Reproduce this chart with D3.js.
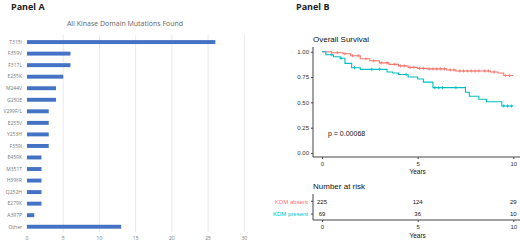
<!DOCTYPE html>
<html>
<head>
<meta charset="utf-8">
<script src="https://cdn.jsdelivr.net/npm/d3@7"></script>
<style>
  body { margin: 0; background: #fff; }
  svg { display: block; }
</style>
</head>
<body>
<div id="chart"></div>
<script>
// ---- data: panel A ----
const mutations = ["T315I", "F359V", "F317L", "E255K", "M244V", "G250E", "V299F/L", "E255V", "Y253H",
  "F359I", "E459K", "M351T", "H396R", "Q252H", "E279K", "A397P", "Other"];
const mutationCounts = [26, 6, 6, 5, 4, 4, 3, 3, 3, 3, 2, 2, 2, 2, 2, 1, 13];
const countTicks = [0, 5, 10, 15, 20, 25, 30];

// ---- data: panel B (Kaplan-Meier, step points) ----
const absentTimes = [0, 0.5, 1.1, 1.5, 2.0, 2.5, 3.0, 3.5, 4.0, 4.5, 5.0, 5.5, 6.5, 7.0, 8.8, 9.2, 9.5];
const absentSurv  = [1.0, 0.99, 0.98, 0.96, 0.93, 0.91, 0.89, 0.875, 0.86, 0.845, 0.835, 0.83, 0.82, 0.81, 0.80, 0.79, 0.765];
const absentCensor = [0.8, 1.2, 1.6, 1.9, 2.3, 2.7, 3.1, 3.4, 3.8, 4.1, 4.3, 4.6, 4.8, 5.1, 5.3, 5.6, 5.8, 6.0,
  6.2, 6.4, 6.7, 6.9, 7.2, 7.4, 7.6, 7.8, 8.0, 8.2, 8.5, 8.7, 9.0, 9.6, 9.8];
const presentTimes = [0, 0.2, 0.6, 0.95, 1.2, 1.55, 2.0, 3.4, 3.7, 4.0, 4.5, 5.0, 5.3, 5.8, 7.5, 7.7, 8.2, 8.6, 9.4];
const presentSurv  = [1.0, 0.97, 0.95, 0.935, 0.885, 0.842, 0.826, 0.80, 0.79, 0.775, 0.75, 0.73, 0.70, 0.645, 0.60, 0.56, 0.53, 0.506, 0.464];
const presentCensor = [0.5, 1.0, 1.7, 2.6, 3.0, 4.4, 5.9, 6.1, 6.3, 7.0, 9.5, 9.7, 9.9];
const survTicks = [0, 0.25, 0.5, 0.75, 1.0];
const yearTicks = [0, 5, 10];
const riskGroups = ["KDM absent", "KDM present"];
const riskAbsent = [225, 124, 29];
const riskPresent = [69, 36, 10];
const groupColors = ["#F8766D", "#00BFC4"];

const W = 520, H = 242;
const svg = d3.select("#chart").append("svg").attr("width", W).attr("height", H);

// ================= Panel A =================
svg.append("text").attr("x", 11).attr("y", 10)
  .style("font", "bold 9px 'Open Sans', sans-serif").attr("fill", "#222").text("Panel A");

svg.append("text").attr("x", 125).attr("y", 26).attr("text-anchor", "middle")
  .style("font", "7px 'Open Sans', sans-serif").attr("fill", "#666")
  .text("All Kinase Domain Mutations Found");

const xA = d3.scaleLinear().domain([0, 30]).range([27, 244.3]);
const yA = d3.scaleBand().domain(mutations).range([36.3, 232.5]).paddingInner(0.66).paddingOuter(0.33);

const gA = svg.append("g");
gA.selectAll(".grid").data(countTicks.slice(1)).enter().append("line")
  .attr("x1", d => xA(d)).attr("x2", d => xA(d))
  .attr("y1", 35).attr("y2", 232)
  .attr("stroke", "#e2e2e2").attr("stroke-width", 0.8);

gA.selectAll(".bar").data(mutations).enter().append("rect")
  .attr("x", xA(0))
  .attr("y", d => yA(d))
  .attr("width", (d, i) => xA(mutationCounts[i]) - xA(0))
  .attr("height", yA.bandwidth())
  .attr("fill", "#4472C4");

gA.selectAll(".cat").data(mutations).enter().append("text")
  .attr("x", 22).attr("y", d => yA(d) + yA.bandwidth() / 2 + 1.8)
  .attr("text-anchor", "end")
  .style("font", "5px 'Open Sans', sans-serif").attr("fill", "#777")
  .text(d => d);

gA.selectAll(".tick").data(countTicks).enter().append("text")
  .attr("x", d => xA(d)).attr("y", 240)
  .attr("text-anchor", "middle")
  .style("font", "5px 'Open Sans', sans-serif").attr("fill", "#777")
  .text(d => d);

// ================= Panel B =================
svg.append("text").attr("x", 296).attr("y", 10)
  .style("font", "bold 9px 'Open Sans', sans-serif").attr("fill", "#222").text("Panel B");

const axisFont = "6px 'Liberation Sans', Arial, sans-serif";
const xB = d3.scaleLinear().domain([0, 10]).range([322, 513.3]);
const yB = d3.scaleLinear().domain([0, 1]).range([153, 51.7]);

svg.append("text").attr("x", 313).attr("y", 42)
  .style("font", "8px 'Liberation Sans', Arial, sans-serif").attr("fill", "#111")
  .text("Overall Survival");

const gB = svg.append("g");
// axes
const yAxisB = gB.append("g").attr("transform", "translate(313,0)")
  .call(d3.axisLeft(yB).tickValues(survTicks).tickFormat(d3.format(".2f")).tickSize(2).tickPadding(2));
const xAxisB = gB.append("g").attr("transform", "translate(0,157)")
  .call(d3.axisBottom(xB).tickValues(yearTicks).tickSize(2).tickPadding(3));
[yAxisB, xAxisB].forEach(g => {
  g.select(".domain").remove();
  g.selectAll("line").attr("stroke", "#444");
  g.selectAll("text").style("font", axisFont).attr("fill", "#333");
});
gB.append("line").attr("x1", 313).attr("x2", 313).attr("y1", 47).attr("y2", 157).attr("stroke", "#444");
gB.append("line").attr("x1", 313).attr("x2", 520).attr("y1", 157).attr("y2", 157).attr("stroke", "#444");
gB.append("text").attr("x", xB(5)).attr("y", 174).attr("text-anchor", "middle")
  .style("font", "6.5px 'Liberation Sans', Arial, sans-serif").attr("fill", "#111").text("Years");

// curves
const stepLine = d3.line().curve(d3.curveStepAfter).x(d => xB(d[0])).y(d => yB(d[1]));
function survAt(times, surv, t) {
  const i = d3.bisectRight(times, t) - 1;
  return surv[Math.max(0, i)];
}
const series = [
  {times: absentTimes, surv: absentSurv, censor: absentCensor, color: groupColors[0]},
  {times: presentTimes, surv: presentSurv, censor: presentCensor, color: groupColors[1]}
];
series.forEach(s => {
  const pts = s.times.map((t, i) => [t, s.surv[i]]);
  pts.push([10, s.surv[s.surv.length - 1]]);
  gB.append("path").datum(pts).attr("d", stepLine)
    .attr("fill", "none").attr("stroke", s.color).attr("stroke-width", 1.1);
  gB.selectAll(null).data(s.censor).enter().append("path")
    .attr("d", d => {
      const x = xB(d), y = yB(survAt(s.times, s.surv, d));
      return `M${x},${y - 1.6}V${y + 1.6}M${x - 1.4},${y}H${x + 1.4}`;
    })
    .attr("stroke", s.color).attr("stroke-width", 0.8);
});

gB.append("text").attr("x", 328).attr("y", 136)
  .style("font", "7px 'Liberation Sans', Arial, sans-serif").attr("fill", "#111")
  .text("p = 0.00068");

// risk table
svg.append("text").attr("x", 313).attr("y", 189)
  .style("font", "8px 'Liberation Sans', Arial, sans-serif").attr("fill", "#111")
  .text("Number at risk");

const yR = d3.scalePoint().domain(riskGroups).range([201.3, 214]);
const gR = svg.append("g");
gR.append("line").attr("x1", 313).attr("x2", 313).attr("y1", 194).attr("y2", 220).attr("stroke", "#444");
gR.append("line").attr("x1", 313).attr("x2", 520).attr("y1", 220).attr("y2", 220).attr("stroke", "#444");
gR.selectAll(".rl").data(riskGroups).enter().append("text")
  .attr("x", 308).attr("y", d => yR(d) + 2.2).attr("text-anchor", "end")
  .style("font", "6px 'Liberation Sans', Arial, sans-serif")
  .attr("fill", (d, i) => groupColors[i]).text(d => d);
gR.selectAll(".rt").data(riskGroups).enter().append("line")
  .attr("x1", 311).attr("x2", 313).attr("y1", d => yR(d)).attr("y2", d => yR(d)).attr("stroke", "#444");
[riskAbsent, riskPresent].forEach((row, r) => {
  gR.selectAll(null).data(row).enter().append("text")
    .attr("x", (d, i) => xB(yearTicks[i])).attr("y", yR(riskGroups[r]) + 2.2)
    .attr("text-anchor", "middle")
    .style("font", "6px 'Liberation Sans', Arial, sans-serif").attr("fill", "#111")
    .text(d => d);
});
const xAxisR = gR.append("g").attr("transform", "translate(0,220)")
  .call(d3.axisBottom(xB).tickValues(yearTicks).tickSize(2).tickPadding(3));
xAxisR.select(".domain").remove();
xAxisR.selectAll("line").attr("stroke", "#444");
xAxisR.selectAll("text").style("font", axisFont).attr("fill", "#333");
gR.append("text").attr("x", xB(5)).attr("y", 238).attr("text-anchor", "middle")
  .style("font", "6.5px 'Liberation Sans', Arial, sans-serif").attr("fill", "#111").text("Years");
</script>
</body>
</html>
